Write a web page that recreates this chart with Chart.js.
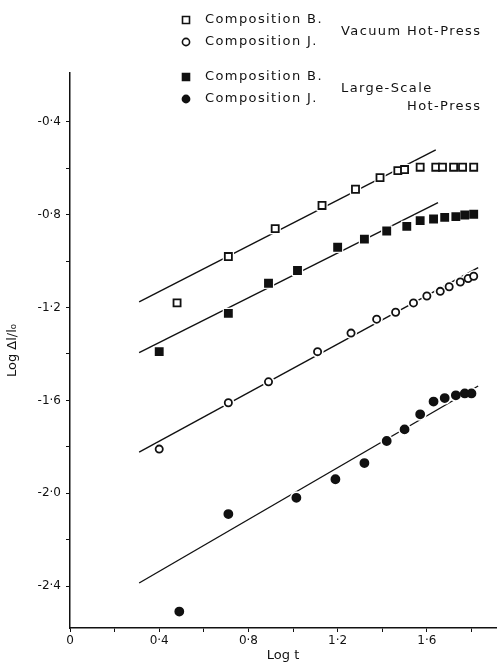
<!DOCTYPE html>
<html>
<head>
<meta charset="utf-8">
<script src="https://cdn.jsdelivr.net/npm/chart.js@4.4.1/dist/chart.umd.min.js"></script>
<style>
  html, body { margin: 0; padding: 0; background: #fff; }
  #wrap { width: 504px; height: 666px; position: relative; }
</style>
</head>
<body>
<div id="wrap"><canvas id="dilationChart"></canvas></div>
<script>
// Log t / Log Δl/l0
const vacB_logT = [0.48, 0.71, 0.92, 1.13, 1.28, 1.39, 1.47, 1.50, 1.57, 1.64, 1.67, 1.72, 1.76, 1.81];
const vacB_logD = [-1.18, -0.98, -0.86, -0.76, -0.69, -0.64, -0.61, -0.605, -0.595, -0.595, -0.595, -0.595, -0.595, -0.595];

const vacJ_logT = [0.40, 0.71, 0.89, 1.11, 1.26, 1.375, 1.46, 1.54, 1.60, 1.66, 1.70, 1.75, 1.785, 1.81];
const vacJ_logD = [-1.81, -1.61, -1.52, -1.39, -1.31, -1.25, -1.22, -1.18, -1.15, -1.13, -1.11, -1.09, -1.075, -1.065];

const lsB_logT = [0.40, 0.71, 0.89, 1.02, 1.20, 1.32, 1.42, 1.51, 1.57, 1.63, 1.68, 1.73, 1.77, 1.81];
const lsB_logD = [-1.39, -1.225, -1.095, -1.04, -0.94, -0.905, -0.87, -0.85, -0.825, -0.818, -0.811, -0.808, -0.801, -0.798];

const lsJ_logT = [0.49, 0.71, 1.015, 1.19, 1.32, 1.42, 1.50, 1.57, 1.63, 1.68, 1.73, 1.77, 1.80];
const lsJ_logD = [-2.51, -2.09, -2.02, -1.94, -1.87, -1.775, -1.725, -1.66, -1.605, -1.59, -1.578, -1.57, -1.57];

// fitted straight lines (end points)
const fitVacB_logT = [0.31, 1.64];
const fitVacB_logD = [-1.175, -0.52];
const fitLsB_logT = [0.31, 1.65];
const fitLsB_logD = [-1.394, -0.748];
const fitVacJ_logT = [0.31, 1.83];
const fitVacJ_logD = [-1.823, -1.028];
const fitLsJ_logT = [0.31, 1.83];
const fitLsJ_logD = [-2.387, -1.538];

const xTicks = [0, 0.2, 0.4, 0.6, 0.8, 1.0, 1.2, 1.4, 1.6, 1.8];
const yTicks = [-2.4, -2.2, -2.0, -1.8, -1.6, -1.4, -1.2, -1.0, -0.8, -0.6, -0.4];

const legendLabels = ['Composition B.', 'Composition J.', 'Composition B.', 'Composition J.'];
const groupLabels = ['Vacuum Hot-Press', 'Large-Scale', 'Hot-Press'];

const INK = '#111';
const pts = (xs, ys) => xs.map((x, i) => ({ x: x, y: ys[i] }));

function markerSet(label, xs, ys, style, filled, radius) {
    return {
        label: label,
        data: pts(xs, ys),
        showLine: false,
        pointStyle: style,
        pointRadius: radius,
        pointBackgroundColor: filled ? INK : '#fff',
        pointBorderColor: INK,
        pointBorderWidth: 1.8,
        order: 0
    };
}

// white halo behind the markers gives the broken line look of the original
function haloSet(xs, ys, style, radius) {
    return {
        label: 'halo',
        data: pts(xs, ys),
        showLine: false,
        pointStyle: style,
        pointRadius: radius,
        pointBackgroundColor: '#fff',
        pointBorderColor: '#fff',
        pointBorderWidth: 0,
        order: 1
    };
}

function fitSet(xs, ys) {
    return {
        label: 'fit',
        data: pts(xs, ys),
        showLine: true,
        borderColor: INK,
        borderWidth: 1.4,
        pointRadius: 0,
        fill: false,
        order: 2
    };
}

const fmt = v => {
    const r = Math.round(v * 10);
    if (r % 4 !== 0) return '';
    if (r === 0) return '0';
    return (r / 10).toFixed(1).replace('.', '\u00B7');
};

const legendPlugin = {
    id: 'figLegend',
    afterDraw(chart) {
        const c = chart.ctx;
        c.save();
        c.fillStyle = INK;
        c.strokeStyle = INK;
        c.lineWidth = 1.6;
        c.font = '13px "DejaVu Sans"';
        c.letterSpacing = '1.4px';
        c.textBaseline = 'middle';
        c.textAlign = 'left';
        const rowsY = [20, 42, 77, 99];
        const styles = [['rect', false], ['circle', false], ['rect', true], ['circle', true]];
        rowsY.forEach((y, i) => {
            const x = 186;
            c.beginPath();
            if (styles[i][0] === 'rect') {
                c.rect(x - 3.5, y - 3.5, 7, 7);
            } else {
                c.arc(x, y, 3.6, 0, Math.PI * 2);
            }
            c.fillStyle = styles[i][1] ? INK : '#fff';
            c.fill();
            c.stroke();
            c.fillStyle = INK;
            c.fillText(legendLabels[i], 205, y);
        });
        c.fillText(groupLabels[0], 341, 32);
        c.fillText(groupLabels[1], 341, 89);
        c.fillText(groupLabels[2], 407, 107);
        c.restore();
    }
};

const ctx = document.getElementById('dilationChart').getContext('2d');

new Chart(ctx, {
    type: 'scatter',
    data: {
        datasets: [
            markerSet('Composition B. Vacuum', vacB_logT, vacB_logD, 'rect', false, 5),
            markerSet('Composition J. Vacuum', vacJ_logT, vacJ_logD, 'circle', false, 3.6),
            markerSet('Composition B. Large-Scale', lsB_logT, lsB_logD, 'rect', true, 5),
            markerSet('Composition J. Large-Scale', lsJ_logT, lsJ_logD, 'circle', true, 4),
            haloSet(vacB_logT, vacB_logD, 'rect', 8),
            haloSet(vacJ_logT, vacJ_logD, 'circle', 6),
            haloSet(lsB_logT, lsB_logD, 'rect', 8),
            haloSet(lsJ_logT, lsJ_logD, 'circle', 6.5),
            fitSet(fitVacB_logT, fitVacB_logD),
            fitSet(fitLsB_logT, fitLsB_logD),
            fitSet(fitVacJ_logT, fitVacJ_logD),
            fitSet(fitLsJ_logT, fitLsJ_logD)
        ]
    },
    options: {
        responsive: true,
        maintainAspectRatio: false,
        animation: false,
        layout: { padding: { top: 73, right: 4, left: 0, bottom: 0 } },
        plugins: {
            legend: { display: false },
            tooltip: { enabled: false }
        },
        scales: {
            x: {
                type: 'linear',
                min: 0,
                max: 1.91,
                afterFit: s => { s.height = 38; },
                afterBuildTicks: s => { s.ticks = xTicks.map(v => ({ value: v })); },
                border: { display: true, color: INK, width: 1.5 },
                grid: { display: true, drawOnChartArea: false, drawTicks: true, tickLength: 4, color: INK, lineWidth: 1 },
                ticks: {
                    autoSkip: false,
                    maxRotation: 0,
                    padding: 2,
                    color: INK,
                    font: { family: '"DejaVu Sans"', size: 12 },
                    callback: v => fmt(v)
                },
                title: {
                    display: true,
                    text: 'Log t',
                    color: INK,
                    font: { family: '"DejaVu Sans"', size: 13 },
                    padding: { top: 0, bottom: 3 }
                }
            },
            y: {
                type: 'linear',
                min: -2.581,
                max: -0.189,
                afterFit: s => { s.width = 70; },
                afterBuildTicks: s => { s.ticks = yTicks.map(v => ({ value: v })); },
                border: { display: true, color: INK, width: 1.5 },
                grid: { display: true, drawOnChartArea: false, drawTicks: true, tickLength: 4, color: INK, lineWidth: 1 },
                ticks: {
                    autoSkip: false,
                    padding: 5,
                    color: INK,
                    font: { family: '"DejaVu Sans"', size: 12 },
                    callback: v => fmt(v)
                },
                title: {
                    display: true,
                    text: 'Log \u0394l/l\u2080',
                    color: INK,
                    font: { family: '"DejaVu Sans"', size: 13 },
                    padding: { top: 5, bottom: 0 }
                }
            }
        }
    },
    plugins: [legendPlugin]
});
</script>
</body>
</html>
